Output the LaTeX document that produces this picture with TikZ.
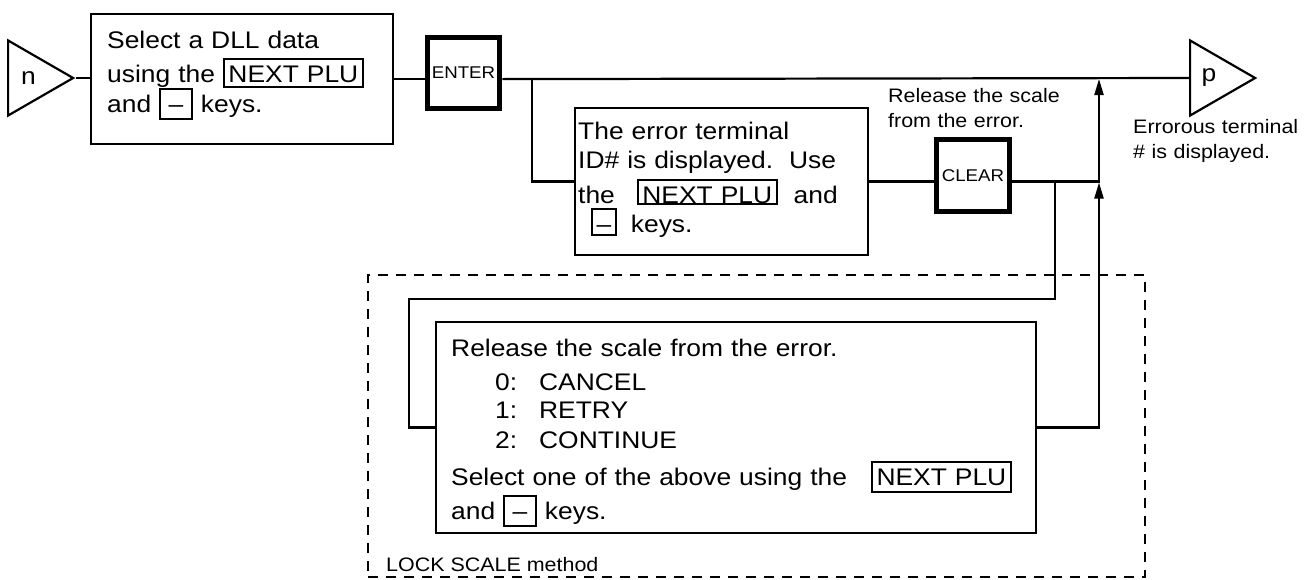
\documentclass[tikz,border=0pt]{standalone}
\usepackage{fontspec}
\setmainfont{Liberation Sans}[FakeStretch=1.1]
\usepackage{tikz}
\usetikzlibrary{positioning, shapes.geometric, arrows.meta, calc}
\setlength{\lineskiplimit}{-100pt}
% touche encadree dans le texte
\newcommand{\keycap}[2][6pt]{{\setlength{\fboxsep}{0pt}\setlength{\fboxrule}{2pt}%
  \fbox{\hspace{3.5pt}\rule[-#1]{0pt}{\dimexpr 22pt+#1\relax}#2\hspace{3.5pt}}}}
\tikzset{
  box/.style={draw, line width=2.2pt, inner sep=0pt},
  keybtn/.style={draw, line width=5.5pt, inner sep=0pt, font=\fontsize{17}{20}\selectfont},
  term/.style={draw, line width=2.2pt, isosceles triangle, isosceles triangle stretches,
    inner sep=0pt, minimum height=65pt, minimum width=75pt, font=\fontsize{24}{28}\selectfont},
  txt/.style={inner sep=0pt, align=left, font=\fontsize{24}{31}\selectfont},
  note/.style={inner sep=0pt, align=left, font=\fontsize{19.5}{25}\selectfont},
  conn/.style={line width=2.2pt},
  arr/.style={-{Triangle[length=16pt,width=9pt]}, shorten >=1pt},
  lockframe/.style={draw, line width=2pt, dash pattern=on 10pt off 8pt, inner sep=0pt}
}

\begin{document}
\begin{tikzpicture}[x=1pt, y=-1pt]
    \useasboundingbox (0,0) rectangle (1310,579);
    % terminaux
    \node[term, anchor=apex] (n) at (76,78) {n};
    \node[term, anchor=apex] (p) at (1258,78) {p};
    \node[note, text width=180pt, anchor=base west] (ptxt) at (1133,133) {Errorous terminal\\\# is displayed.};
    % boites
    \node[box, minimum width=302pt, minimum height=130pt, anchor=north west] (sel) at (90,13) {};
    \node[txt, text width=280pt, anchor=base west] (seltxt) at (107,48)
      {Select a DLL data\\[3pt]using the \keycap[3.5pt]{NEXT PLU}\\[-1pt]and \keycap{\,--\,} keys.};
    \node[keybtn, minimum width=72pt, minimum height=71pt] (enter) at (463.5,73) {ENTER};
    \node[box, minimum width=293pt, minimum height=147pt] (err) at (721.5,181.5) {};
    \node[txt, text width=285pt, anchor=base west] (errtxt) at (578,139)
      {The error terminal\\[-2pt]ID\# is displayed.\ \ Use\\[4pt]the\hspace{22pt}\keycap[0pt]{NEXT PLU}\ \ and\\[-2pt]\hspace*{13pt}\keycap[1.5pt]{--}\hspace{14pt}keys.};
    \node[note, text width=200pt, anchor=base west] (clrnote) at (888,102) {Release the scale\\from the error.};
    \node[keybtn, minimum width=73pt, minimum height=72pt] (clr) at (973,175.5) {CLEAR};
    % methode LOCK SCALE
    \node[lockframe, minimum width=777pt, minimum height=302pt, anchor=north west] (lockfr) at (367,274) {};
    \node[note, anchor=base west] (locklbl) at (386,571) {LOCK SCALE method};
    \node[box, minimum width=600pt, minimum height=211pt] (lock) at (736,427.5) {};
    \node[txt, text width=580pt, anchor=base west] (locktxt) at (451,356)
      {Release the scale from the error.\\[3pt]
       \hspace*{44pt}\makebox[44pt][l]{0:}CANCEL\\[-3pt]
       \hspace*{44pt}\makebox[44pt][l]{1:}RETRY\\[-1pt]
       \hspace*{44pt}\makebox[44pt][l]{2:}CONTINUE\\[6pt]
       Select one of the above using the\hspace{24pt}\keycap{NEXT PLU}\\[1pt]
       and \keycap{\,--\,} keys.};
    % points de branchement
    \coordinate (br1) at (532,78);
    \coordinate (up1) at (1099,78);
    \coordinate (br2) at (1055,181.5);
    \coordinate (up2) at (1099,181.5);
    \coordinate (lp1) at (409,299);
    % liaisons
    \draw[conn] (n.apex) -- (sel.west |- n.apex);
    \draw[conn] (sel.east) -- (enter.west |- sel.east);
    \draw[conn] (enter.east |- sel.east) -- (p.west);
    \draw[conn] (br1) |- (err.west);
    \draw[conn] (err.east) -- (clr.west |- err.east);
    \draw[conn, arr] (clr.east |- err.east) -| (up1);
    \draw[conn] (br2) |- (lp1) |- (lock.west);
    \draw[conn, arr] (lock.east) -| (up2);
\end{tikzpicture}
\end{document}
